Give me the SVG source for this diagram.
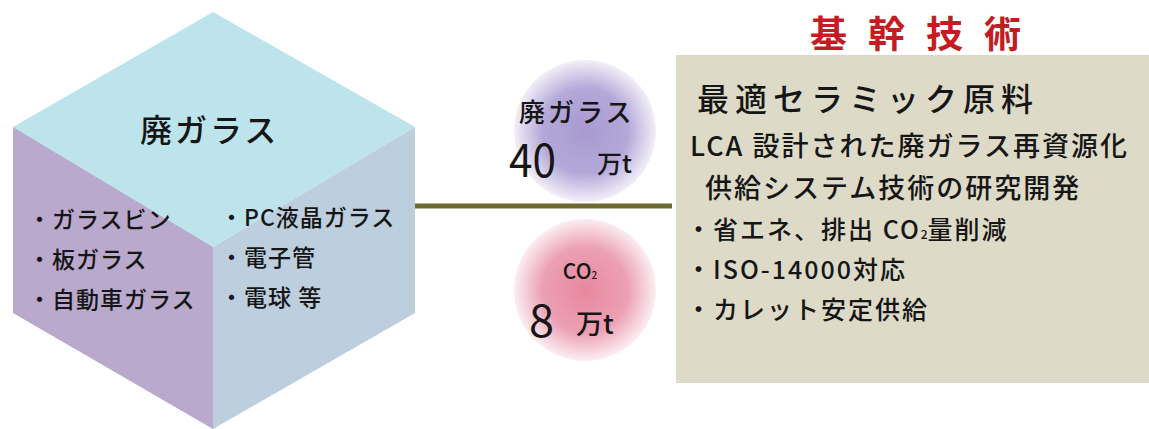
<svg xmlns="http://www.w3.org/2000/svg" width="1149" height="429" viewBox="0 0 1149 429">
<defs>
<radialGradient id="gPurple" cx="0.5" cy="0.5" r="0.5">
<stop offset="0" stop-color="#a89ad0"/><stop offset="0.6" stop-color="#b4a8d8"/><stop offset="1" stop-color="#f2eff8"/>
</radialGradient>
<radialGradient id="gPink" cx="0.5" cy="0.5" r="0.5">
<stop offset="0" stop-color="#e8889f"/><stop offset="0.6" stop-color="#eca0b4"/><stop offset="1" stop-color="#fbeef2"/>
</radialGradient>
</defs>
<style>
text{font-family:"Noto Sans CJK JP","Noto Sans",sans-serif;fill:#161616;font-weight:500}
.h{font-size:23px;letter-spacing:1px}
.b{font-size:25px;letter-spacing:2px}
.m{font-size:27px;letter-spacing:2px}
.n{font-weight:400}
</style>
<rect width="1149" height="429" fill="#ffffff"/>
<g id="connectors">
<line x1="415" y1="206" x2="672" y2="206" stroke="#6b6a30" stroke-width="5"/>
</g>
<g id="cube">
<polygon points="213,12 415,127 213,247 13,127" fill="#bde4ec"/>
<polygon points="13,127 213,247 213,429 13,313" fill="#b9a9cd"/>
<polygon points="213,247 415,127 415,313 213,429" fill="#bdcfde"/>
<text x="140" y="142" font-size="32" letter-spacing="3">廃ガラス</text>
<text class="h" x="28" y="228">・ガラスビン</text>
<text class="h" x="28" y="268">・板ガラス</text>
<text class="h" x="28" y="308">・自動車ガラス</text>
<text class="h" x="220" y="226">・PC液晶ガラス</text>
<text class="h" x="220" y="266">・電子管</text>
<text class="h" x="220" y="306">・電球 等</text>
</g>
<g id="circle-glass">
<circle cx="585" cy="131" r="71" fill="url(#gPurple)"/>
<text x="519" y="122" font-size="26" letter-spacing="3">廃ガラス</text>
<text class="n" x="509" y="177" font-size="46" transform="translate(509 177) scale(0.92 1) translate(-509 -177)">40</text>
<text x="597" y="173" font-size="25">万t</text>
</g>
<g id="circle-co2">
<circle cx="585" cy="290" r="71" fill="url(#gPink)"/>
<text x="580" y="279" font-size="21" text-anchor="middle">CO<tspan font-size="10">2</tspan></text>
<text class="n" x="529" y="337" font-size="45">8</text>
<text x="576" y="334" font-size="27">万t</text>
</g>
<g id="tech">
<text x="810" y="48" font-size="37" letter-spacing="21" style="fill:#c41c22;font-weight:700">基幹技術</text>
<rect x="676" y="55" width="473" height="328" fill="#dedac8"/>
<text x="697" y="111" font-size="32" letter-spacing="6">最適セラミック原料</text>
<text class="m" x="690" y="156">LCA 設計された廃ガラス再資源化</text>
<text class="m" x="705" y="198">供給システム技術の研究開発</text>
<text class="b" x="686" y="239">・省エネ、排出 CO<tspan font-size="12" letter-spacing="0">2</tspan>量削減</text>
<text class="b" x="686" y="279">・ISO-14000対応</text>
<text class="b" x="686" y="319">・カレット安定供給</text>
</g>
</svg>
